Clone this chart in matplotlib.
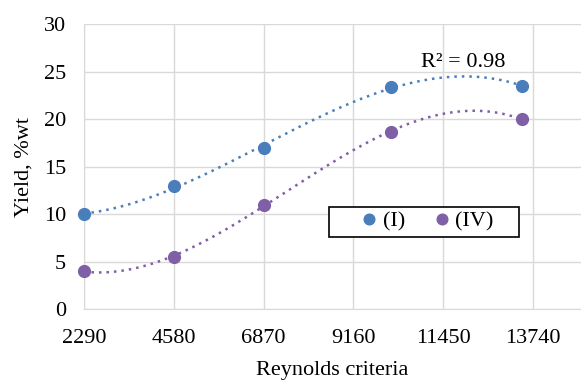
import numpy as np
import matplotlib
matplotlib.use("Agg")
import matplotlib.pyplot as plt
from matplotlib.patches import Rectangle

plt.rcParams['font.family'] = ['Liberation Serif', 'DejaVu Serif']

reynolds = [2290, 4580, 6870, 10120, 13460]
yield_I = [10.0, 13.0, 17.0, 23.4, 23.5]
yield_IV = [4.0, 5.5, 11.0, 18.7, 20.0]
xticks = [2290, 4580, 6870, 9160, 11450, 13740]
yticks = [0, 5, 10, 15, 20, 25, 30]

c_I = '#4A7EBB'
c_IV = '#7F5FA6'
FS = 16

W, H = 581, 381
fig = plt.figure(figsize=(W/100, H/100), dpi=100)
ax = fig.add_axes([84/W, 1 - 309.3/H, (W-84)/W, (309.3-24.3)/H])

x_plot_max = 2290 + (W - 84) / 89.8 * 2290
ax.set_xlim(2290, x_plot_max)
ax.set_ylim(0, 30)

xs = np.linspace(min(reynolds), max(reynolds), 300)
for ys, c, lab in [(yield_I, c_I, '(I)'), (yield_IV, c_IV, '(IV)')]:
    p = np.polyfit(reynolds, ys, 3)
    ax.plot(xs, np.polyval(p, xs), linestyle=(0, (1, 2)), color=c, lw=1.8, zorder=2)
    ax.plot(reynolds, ys, 'o', color=c, ms=8.5, label=lab, zorder=3, clip_on=False)

ax.text(11950, 25.5, 'R² = 0.98', fontsize=FS, ha='center', va='baseline')

ax.set_xticks(xticks)
ax.set_xticklabels([str(t) for t in xticks])
ax.set_yticks(yticks)
ax.grid(True, color='#D9D9D9', lw=1)
ax.set_axisbelow(True)
for s in ['top', 'right']:
    ax.spines[s].set_visible(False)
for s in ['left', 'bottom']:
    ax.spines[s].set_color('#D9D9D9')
ax.tick_params(length=0, labelsize=FS)
ax.tick_params(axis='x', pad=14.5)
ax.tick_params(axis='y', pad=13)

ax.set_xlabel('Reynolds criteria', fontsize=FS, labelpad=9)
ax.set_ylabel('Yield, %wt', fontsize=FS, labelpad=7)

# legend box
ax.add_patch(Rectangle((329/W, 1 - 236.7/H), (519-329)/W, 30/H, transform=fig.transFigure,
                       fill=True, facecolor='white', edgecolor='black', lw=1.2, zorder=4,
                       clip_on=False))
leg = ax.legend(loc='center', bbox_to_anchor=(427/W, 1 - 221.7/H), bbox_transform=fig.transFigure,
                ncol=2, frameon=False, fontsize=FS, handlelength=0.8,
                handletextpad=0.2, markerscale=0.9, borderaxespad=0, columnspacing=1.25)
leg.set_zorder(5)

fig.savefig('out.png', dpi=100)
